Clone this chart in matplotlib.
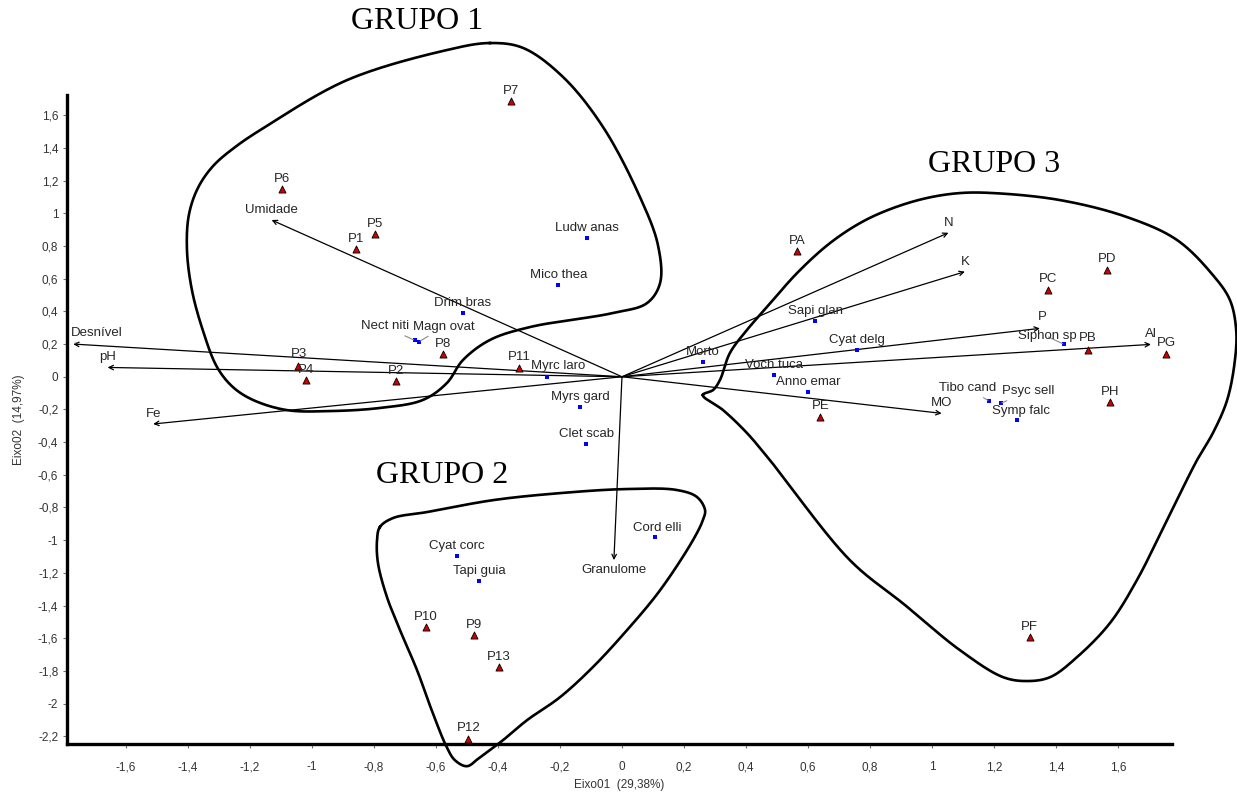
import numpy as np
import matplotlib
matplotlib.use("Agg")
import matplotlib.pyplot as plt

plt.rcParams['font.family'] = ['Liberation Sans', 'DejaVu Sans']

# site scores (Eixo01, Eixo02)
site_names = ['P1', 'P2', 'P3', 'P4', 'P5', 'P6', 'P7', 'P8', 'P9', 'P10', 'P11', 'P12', 'P13',
              'PA', 'PB', 'PC', 'PD', 'PE', 'PF', 'PG', 'PH']
site_x = [-0.859, -0.730, -1.044, -1.020, -0.797, -1.097, -0.358, -0.578, -0.476, -0.632, -0.331, -0.496, -0.397,
          0.566, 1.502, 1.374, 1.565, 0.639, 1.315, 1.754, 1.573]
site_y = [0.780, -0.028, 0.067, -0.022, 0.871, 1.149, 1.687, 0.137, -1.583, -1.532, 0.051, -2.217, -1.779,
          0.771, 0.165, 0.531, 0.653, -0.245, -1.595, 0.141, -0.155]

# species scores
spp_names = ['Ludw anas', 'Mico thea', 'Drim bras', 'Nect niti', 'Magn ovat', 'Myrc laro', 'Myrs gard',
             'Clet scab', 'Cord elli', 'Cyat corc', 'Tapi guia', 'Morto', 'Sapi glan', 'Cyat delg',
             'Voch tuca', 'Anno emar', 'Siphon sp', 'Tibo cand', 'Psyc sell', 'Symp falc']
spp_x = [-0.112, -0.205, -0.514, -0.668, -0.655, -0.241, -0.135, -0.116, 0.108, -0.533, -0.460,
         0.260, 0.624, 0.757, 0.491, 0.601, 1.426, 1.184, 1.221, 1.275]
spp_y = [0.851, 0.561, 0.388, 0.222, 0.214, 0.000, -0.184, -0.414, -0.983, -1.099, -1.248,
         0.090, 0.339, 0.165, 0.008, -0.092, 0.198, -0.149, -0.163, -0.263]

# environmental vectors
env_names = ['Umidade', 'Desnível', 'pH', 'Fe', 'N', 'K', 'P', 'Al', 'MO', 'Granulome']
env_x = [-1.130, -1.770, -1.659, -1.512, 1.053, 1.106, 1.348, 1.706, 1.031, -0.026]
env_y = [0.959, 0.200, 0.057, -0.289, 0.881, 0.643, 0.296, 0.198, -0.224, -1.122]

# hand-drawn group outlines (control points, smoothed below)
grupo1_x = [-0.426, -0.319, -0.190, -0.061, 0.058, 0.116, 0.123, 0.081, -0.029, -0.297, -0.426, -0.513,
            -0.565, -0.642, -0.781, -0.942, -1.081, -1.190, -1.255, -1.306, -1.352, -1.387, -1.403,
            -1.397, -1.368, -1.319, -1.248, -1.152, -0.887, -0.565]
grupo1_y = [2.042, 2.012, 1.834, 1.528, 1.100, 0.806, 0.574, 0.451, 0.390, 0.304, 0.225, 0.102,
            -0.039, -0.142, -0.191, -0.210, -0.204, -0.142, -0.063, 0.059, 0.285, 0.530, 0.775,
            0.989, 1.154, 1.289, 1.405, 1.527, 1.815, 1.999]
grupo2_x = [-0.781, -0.739, -0.629, -0.416, -0.200, 0.016, 0.177, 0.242, 0.268, 0.261, 0.229, 0.123,
            0.016, -0.094, -0.200, -0.306, -0.384, -0.458, -0.500, -0.539, -0.565, -0.610, -0.661,
            -0.716, -0.758, -0.787, -0.790]
grupo2_y = [-0.920, -0.865, -0.828, -0.755, -0.712, -0.687, -0.693, -0.736, -0.816, -0.877, -1.000,
            -1.306, -1.551, -1.777, -1.961, -2.101, -2.224, -2.328, -2.383, -2.346, -2.267, -2.059,
            -1.795, -1.550, -1.348, -1.140, -1.000]
grupo3_x = [0.261, 0.294, 0.316, 0.348, 0.403, 0.468, 0.565, 0.671, 0.774, 0.874, 0.984, 1.090, 1.197,
            1.413, 1.629, 1.790, 1.906, 1.961, 1.981, 1.977, 1.952, 1.906, 1.855, 1.758, 1.661, 1.574,
            1.468, 1.381, 1.306, 1.229, 1.090, 0.913, 0.735, 0.477, 0.403, 0.326]
grupo3_y = [-0.112, -0.081, -0.020, 0.145, 0.286, 0.427, 0.635, 0.818, 0.947, 1.032, 1.094, 1.124,
            1.124, 1.081, 0.977, 0.837, 0.622, 0.469, 0.286, 0.102, -0.142, -0.344, -0.509, -0.877,
            -1.244, -1.507, -1.715, -1.838, -1.862, -1.838, -1.673, -1.397, -1.122, -0.510, -0.344,
            -0.204]

xticks = np.round(np.arange(-1.6, 1.61, 0.2), 1) + 0.0
yticks = np.round(np.arange(-2.2, 1.61, 0.2), 1) + 0.0

# label offsets in pixels (default: centred just above the point)
label_offset = {
    'Myrc laro': (11, 11), 'Nect niti': (-30, 14), 'Magn ovat': (25, 15), 'Siphon sp': (-17, 8),
    'Tibo cand': (-21, 13), 'Psyc sell': (28, 12), 'Symp falc': (4, 9), 'Desnível': (24, 11),
    'Granulome': (0, -10), 'P3': (1, 12), 'PB': (0, 12), 'PD': (0, 11), 'PC': (0, 11), 'P11': (0, 11),
    'PE': (1, 11), 'PG': (1, 11), 'P12': (1, 11), 'P': (2, 11), 'Cord elli': (2, 9),
}
leader = {'Nect niti', 'Magn ovat', 'Siphon sp', 'Tibo cand', 'Psyc sell', 'Desnível'}

# rough pixels per data unit, so the outline spline works in an even space
SX, SY = 310.0, 163.4


def catmull_rom(p0, p1, p2, p3, n):
    # centripetal parametrisation avoids loops where point spacing is uneven
    def nxt(ti, a, b):
        return ti + max(np.hypot(*(b - a)), 1e-6) ** 0.5
    t0 = 0.0
    t1 = nxt(t0, p0, p1)
    t2 = nxt(t1, p1, p2)
    t3 = nxt(t2, p2, p3)
    t = np.linspace(t1, t2, n, endpoint=False)[:, None]
    a1 = (t1 - t) / (t1 - t0) * p0 + (t - t0) / (t1 - t0) * p1
    a2 = (t2 - t) / (t2 - t1) * p1 + (t - t1) / (t2 - t1) * p2
    a3 = (t3 - t) / (t3 - t2) * p2 + (t - t2) / (t3 - t2) * p3
    b1 = (t2 - t) / (t2 - t0) * a1 + (t - t0) / (t2 - t0) * a2
    b2 = (t3 - t) / (t3 - t1) * a2 + (t - t1) / (t3 - t1) * a3
    return (t2 - t) / (t2 - t1) * b1 + (t - t1) / (t2 - t1) * b2


def smooth_closed(xs, ys, n=30):
    pts = np.column_stack([np.asarray(xs) * SX, np.asarray(ys) * SY])
    m = len(pts)
    segs = [catmull_rom(pts[i - 1], pts[i], pts[(i + 1) % m], pts[(i + 2) % m], n) for i in range(m)]
    curve = np.vstack(segs + [segs[0][:1]])
    return curve[:, 0] / SX, curve[:, 1] / SY


def put_label(ax, name, x, y):
    dx, dy = label_offset.get(name, (0, 10))
    props = None
    if name in leader:
        props = dict(arrowstyle='-', color='#8a8a8a', lw=0.8, shrinkA=1, shrinkB=1)
    ax.annotate(name, xy=(x, y), xytext=(dx, dy), textcoords='offset pixels',
                ha='center', va='center', fontsize=9.5, color='#262626',
                arrowprops=props, zorder=6)


fig = plt.figure(figsize=(12.37, 7.93), dpi=100)
ax = fig.add_axes([0.0539, 0.0612, 0.8933, 0.819])

# environmental arrows from origin
for name, x, y in zip(env_names, env_x, env_y):
    ax.annotate('', xy=(x, y), xytext=(0, 0),
                arrowprops=dict(arrowstyle='->', color='black', lw=0.9,
                                shrinkA=0, shrinkB=0, mutation_scale=8), zorder=3)
    put_label(ax, name, x, y)

ax.scatter(spp_x, spp_y, marker='s', s=9, color='#0000ff', zorder=4, linewidths=0)
for name, x, y in zip(spp_names, spp_x, spp_y):
    put_label(ax, name, x, y)

ax.scatter(site_x, site_y, marker='^', s=26, color='#cc0000', edgecolors='black',
           linewidths=0.6, zorder=5)
for name, x, y in zip(site_names, site_x, site_y):
    put_label(ax, name, x, y)

for gx, gy in [(grupo1_x, grupo1_y), (grupo2_x, grupo2_y), (grupo3_x, grupo3_y)]:
    sx, sy = smooth_closed(gx, gy)
    ax.plot(sx, sy, color='black', lw=1.9, clip_on=False, zorder=2)

ax.set_xlim(-1.791, 1.773)
ax.set_ylim(-2.25, 1.724)
ax.set_xticks(xticks)
ax.set_yticks(yticks)
fmt = lambda v: ('%g' % v).replace('.', ',')
ax.set_xticklabels([fmt(v) for v in xticks])
ax.set_yticklabels([fmt(v) for v in yticks])
ax.tick_params(direction='out', length=3, width=0.8, color='#707070',
               labelsize=8.5, labelcolor='#333333')
ax.tick_params(axis='x', pad=9)
ax.tick_params(axis='y', pad=3)
for side in ['top', 'right']:
    ax.spines[side].set_visible(False)
for side in ['left', 'bottom']:
    ax.spines[side].set_linewidth(2.4)

ax.set_xlabel('Eixo01  (29,38%)', fontsize=8.5, color='#333333', labelpad=4)
ax.set_ylabel('Eixo02  (14,97%)', fontsize=8.5, color='#333333', labelpad=9)

serif = dict(family=['Liberation Serif', 'DejaVu Serif'], fontsize=23, ha='center', va='center')
fig.text(0.337, 0.9735, 'GRUPO 1', **serif)
fig.text(0.3573, 0.4004, 'GRUPO 2', **serif)
fig.text(0.8036, 0.792, 'GRUPO 3', **serif)

fig.savefig('out.png', dpi=100)
